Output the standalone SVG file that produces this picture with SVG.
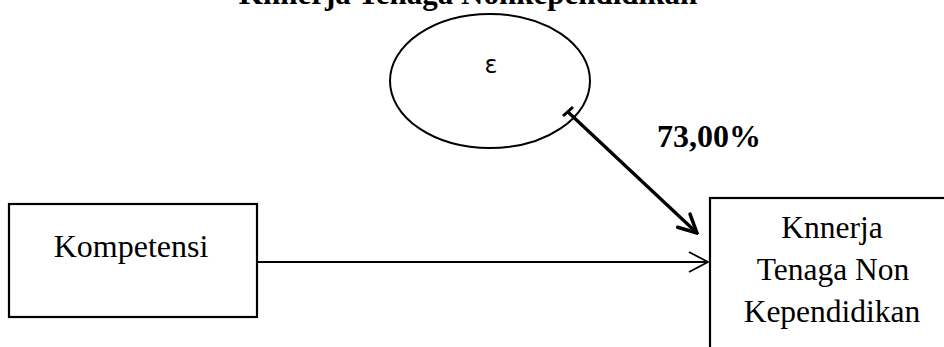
<svg xmlns="http://www.w3.org/2000/svg" width="944" height="347" viewBox="0 0 944 347">
<style>
.t{font-family:"Liberation Serif","Times New Roman",serif;fill:#000}
.b{fill:#fff;stroke:#000;stroke-width:2.2}
</style>
<defs>
<marker id="thick" viewBox="0 0 24 24" refX="22" refY="12" markerWidth="24" markerHeight="24" markerUnits="userSpaceOnUse" orient="auto">
<path d="M4,3 L22,12 L4,21" fill="none" stroke="#000" stroke-width="3.5" stroke-linecap="round" stroke-linejoin="miter"/>
</marker>
<marker id="thin" viewBox="0 0 24 24" refX="22" refY="12" markerWidth="24" markerHeight="24" markerUnits="userSpaceOnUse" orient="auto">
<path d="M3,2 L22,12 L3,22" fill="none" stroke="#000" stroke-width="1.8"/>
</marker>
</defs>
<rect width="944" height="347" fill="#fff"/>
<text class="t" x="468" y="4" font-size="31" font-weight="bold" text-anchor="middle">Knnerja Tenaga Nonkependidikan</text>
<g id="epsilon">
<ellipse cx="490" cy="81" rx="100" ry="67" fill="#fff" stroke="#000" stroke-width="2"/>
<text x="491" y="73" font-family="DejaVu Sans,sans-serif" font-size="24" text-anchor="middle">ε</text>
</g>
<g id="kompetensi">
<rect class="b" x="9" y="204" width="248" height="113"/>
<text class="t" x="131" y="257" font-size="32" text-anchor="middle">Kompetensi</text>
</g>
<g id="kinerja">
<rect class="b" x="710" y="198" width="260" height="170"/>
<text class="t" x="832" y="238" font-size="31.5" text-anchor="middle">Knnerja</text>
<text class="t" x="833" y="280" font-size="31.5" text-anchor="middle">Tenaga Non</text>
<text class="t" x="832" y="322" font-size="31.5" text-anchor="middle">Kependidikan</text>
</g>
<g id="connectors">
<line x1="568" y1="112" x2="697" y2="233" stroke="#000" stroke-width="3.3" marker-end="url(#thick)"/>
<line x1="563" y1="116" x2="573" y2="107" stroke="#000" stroke-width="3"/>
<line x1="257" y1="262" x2="708" y2="262" stroke="#000" stroke-width="1.8" marker-end="url(#thin)"/>
</g>
<text class="t" x="709" y="147" font-size="32" font-weight="bold" text-anchor="middle">73,00%</text>
</svg>
